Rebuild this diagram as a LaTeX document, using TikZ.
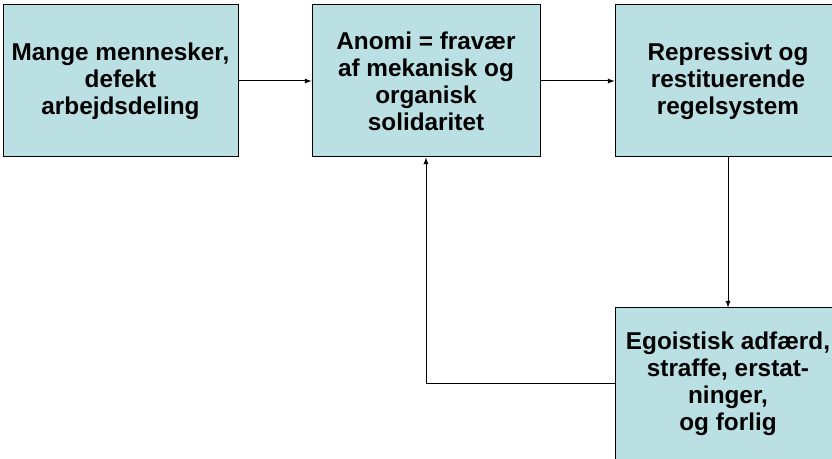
\documentclass[tikz,border=0pt]{standalone}
\usepackage{fontspec}
\setmainfont{Liberation Sans}
\usetikzlibrary{arrows}
\definecolor{boxfill}{HTML}{BBE0E3}
\tikzset{box/.style={draw=black, fill=boxfill, line width=0.75pt, minimum height=114pt, align=center, font=\bfseries\fontsize{18.25}{20.25}\selectfont}}

\begin{document}
\begin{tikzpicture}[x=0.75pt,y=-0.75pt,>=latex,line width=0.75pt]
  \useasboundingbox (0,0) rectangle (832,459);
  \clip (0,0) rectangle (832,459);

  \node[box, minimum width=176.25pt] (mange) at (120.5,81) {Mange mennesker,\\defekt\\arbejdsdeling};
  \node[box, minimum width=171pt] (anomi) at (426,81) {Anomi = fravær\\af mekanisk og\\organisk\\solidaritet};
  \node[box, minimum width=169.5pt] (repressivt) at (728,81) {Repressivt og\\restituerende\\regelsystem};
  \node[box, minimum width=169.5pt] (egoistisk) at (728,384) {Egoistisk adfærd,\\straffe, erstat-\\ninger,\\og forlig};

  \draw[->] (mange) -- (anomi);
  \draw[->] (anomi) -- (repressivt);
  \draw[->] (repressivt) -- (egoistisk);
  \draw[->] (egoistisk.west) -| (anomi.south);

\end{tikzpicture}
\end{document}
